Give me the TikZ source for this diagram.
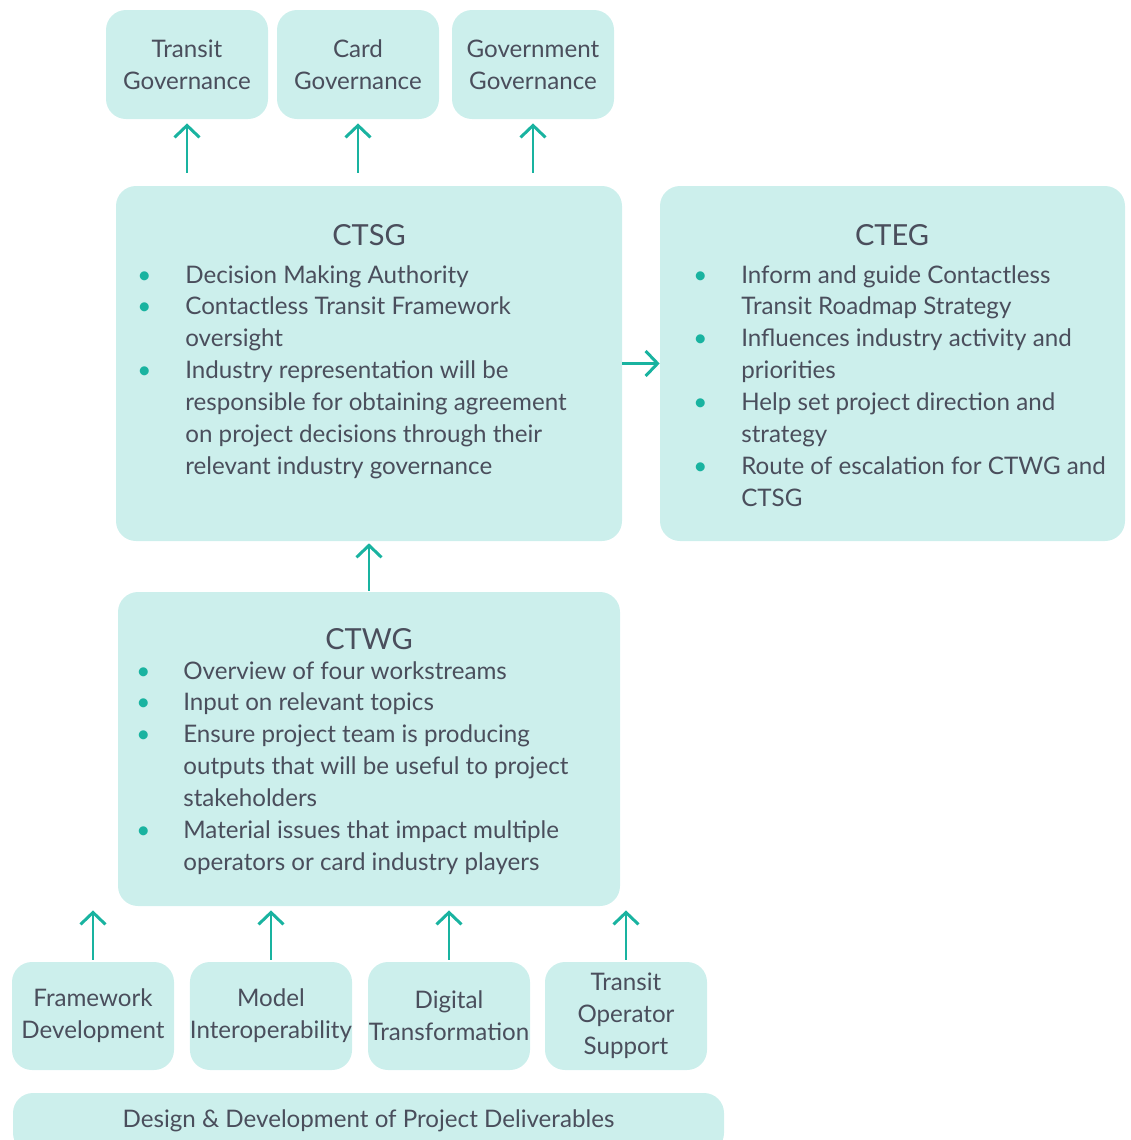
\documentclass[tikz,border=0pt]{standalone}
\usepackage{fontspec}
\setmainfont{Lato}
\usetikzlibrary{arrows.meta}
\definecolor{boxfill}{HTML}{CCEFEC}
\definecolor{teal}{HTML}{19B3A0}
\definecolor{ink}{HTML}{4A4E5C}
\newlength\px
\setlength\px{0.02cm}
\newcommand\bul{\textcolor{teal}{\textbullet}}
\newcommand\bodyfont{\fontsize{13.75pt}{18.14pt}\selectfont}
\tikzset
    {   box/.style =
        {   fill = boxfill
        ,   rounded corners = 20\px
        ,   text = ink
        ,   align = center
        ,   font = \bodyfont
        ,   inner sep = 0pt
        }
    ,   small/.style =
        {   box
        ,   minimum width = 162\px
        ,   minimum height = 108\px
        }
    ,   title/.style =
        {   text = ink
        ,   font = \fontsize{16.5pt}{20pt}\selectfont
        ,   inner sep = 0pt
        }
    ,   list/.style =
        {   text = ink
        ,   font = \bodyfont
        ,   inner sep = 0pt
        ,   anchor = base west
        }
    ,   up/.style =
        {   draw = teal
        ,   line width = 1.7pt
        ,   -{Straight Barb[length=6.8pt, width=14.2pt, line width=1.7pt]}
        }
    }
\begin{document}
\begin{tikzpicture}
        [   x = 0.02cm
        ,   y = -0.02cm
        ]
        \useasboundingbox (0,0) rectangle (1130,1140);
        % governance boxes
        \node [small, minimum height = 109\px] (tg) at (187,64.5) {Transit\\Governance};
        \node [small, minimum height = 109\px] (cg) at (358,64.5) {Card\\Governance};
        \node [small, minimum height = 109\px] (gg) at (533,64.5) {Government\\Governance};
        % main groups
        \node [box, minimum width = 506\px, minimum height = 355\px] (ctsg) at (369,363.5) {};
        \node [box, minimum width = 465\px, minimum height = 355\px] (cteg) at (892.5,363.5) {};
        \node [box, minimum width = 502\px, minimum height = 314\px] (ctwg) at (369,749) {};
        \node [title] (ctsgtitle) at (369,235) {CTSG};
        \node [title] (ctegtitle) at (892,235) {CTEG};
        \node [title] (ctwgtitle) at (369,639) {CTWG};
        \node [list] (ctsglist) at (137,283)
        {   \begin{tabular}[t]{@{}p{48\px}@{}l@{}}
            \bul & Decision Making Authority\\
            \bul & Contactless Transit Framework\\
                 & oversight\\
            \bul & Industry representation will be\\
                 & responsible for obtaining agreement\\
                 & on project decisions through their\\
                 & relevant industry governance
            \end{tabular}
        };
        \node [list] (cteglist) at (693,283)
        {   \begin{tabular}[t]{@{}p{48\px}@{}l@{}}
            \bul & Inform and guide Contactless\\
                 & Transit Roadmap Strategy\\
            \bul & Influences industry activity and\\
                 & priorities\\
            \bul & Help set project direction and\\
                 & strategy\\
            \bul & Route of escalation for CTWG and\\
                 & CTSG
            \end{tabular}
        };
        \node [list] (ctwglist) at (136,679)
        {   \begin{tabular}[t]{@{}p{47\px}@{}l@{}}
            \bul & Overview of four workstreams\\
            \bul & Input on relevant topics\\
            \bul & Ensure project team is producing\\
                 & outputs that will be useful to project\\
                 & stakeholders\\
            \bul & Material issues that impact multiple\\
                 & operators or card industry players
            \end{tabular}
        };
        % workstreams
        \node [small] (fd) at (93,1016) {Framework\\Development};
        \node [small] (mi) at (271,1016) {Model\\Interoperability};
        \node [small] (dt) at (449,1016) {Digital\\Transformation};
        \node [small] (tos) at (626,1016) {Transit\\Operator\\Support};
        \node [box, minimum width = 711\px, minimum height = 60\px] (ddpd) at (368.5,1123) {};
        \node [text = ink, font = \bodyfont, inner sep = 0pt] (ddpdtext) at (368.5,1121)
            {Design \& Development of Project Deliverables};
        % arrows
        \foreach \g in {tg,cg,gg}
            \draw [up, shorten <=7.4pt, shorten >=2.3pt] (ctsg.north -| \g.south) -- (\g.south);
        \draw [up] (ctsg.east) -- (cteg.west);
        \draw [up, shorten <=0.6pt, shorten >=1.1pt] (ctwg.north) -- (ctsg.south);
        \foreach \w in {fd,mi,dt,tos}
            \draw [up, shorten <=1.1pt, shorten >=2.3pt] (\w.north) -- (\w.north |- ctwg.south);
\end{tikzpicture}
\end{document}
